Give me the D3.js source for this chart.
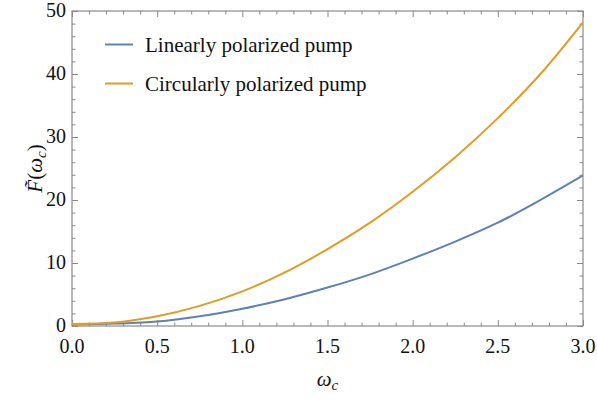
<!DOCTYPE html>
<html>
<head>
<meta charset="utf-8">
<script src="https://cdn.jsdelivr.net/npm/d3@7"></script>
</head>
<body style="margin:0">
<svg id="chart" width="597" height="399" font-family="serif"></svg>
<script>
// Sampled values of F̃(ω_c) for the two pump polarizations
const omega = [0, 0.25, 0.5, 0.75, 1.0, 1.25, 1.5, 1.75, 2.0, 2.25, 2.5, 2.75, 3.0];
const linearPump = [0.25, 0.38, 0.7, 1.55, 2.75, 4.25, 6.1, 8.2, 10.7, 13.4, 16.4, 20.0, 23.9];
const circularPump = [0.3, 0.55, 1.55, 3.2, 5.5, 8.5, 12.2, 16.4, 21.3, 26.8, 33.0, 40.0, 48.2];

const seriesNames = ["Linearly polarized pump", "Circularly polarized pump"];
const seriesColors = ["#5E81B5", "#E19C24"];

const xMajor = [0, 0.5, 1.0, 1.5, 2.0, 2.5, 3.0];
const yMajor = [0, 10, 20, 30, 40, 50];

const svg = d3.select("#chart");
const plotL = 72, plotR = 583, plotT = 11, plotB = 326;

const x = d3.scaleLinear().domain([0, 3]).range([plotL, plotR]);
const y = d3.scaleLinear().domain([0, 50]).range([plotB, plotT]);

const frameColor = "#8a8a8a";
const majorLen = 6, minorLen = 3.5;

const xMinor = d3.range(0, 3.0001, 0.1).filter(v => Math.abs(v * 2 - Math.round(v * 2)) > 1e-6);
const yMinor = d3.range(0, 50.0001, 2).filter(v => v % 10 !== 0);

// Serif text helper: every label goes through it
function serifText(sel, size) {
  return sel.attr("font-family", "serif")
    .attr("font-size", size)
    .attr("fill", "#111");
}

// Frame ticks on all four sides, pointing inward
const gx = svg.append("g").attr("transform", `translate(0,${plotB})`);
gx.call(d3.axisBottom(x).tickValues(xMajor).tickSize(-majorLen).tickFormat(""));
gx.append("g").call(d3.axisBottom(x).tickValues(xMinor).tickSize(-minorLen).tickFormat(""));

const gt = svg.append("g").attr("transform", `translate(0,${plotT})`);
gt.call(d3.axisTop(x).tickValues(xMajor).tickSize(-majorLen).tickFormat(""));
gt.append("g").call(d3.axisTop(x).tickValues(xMinor).tickSize(-minorLen).tickFormat(""));

const gy = svg.append("g").attr("transform", `translate(${plotL},0)`);
gy.call(d3.axisLeft(y).tickValues(yMajor).tickSize(-majorLen).tickFormat(""));
gy.append("g").call(d3.axisLeft(y).tickValues(yMinor).tickSize(-minorLen).tickFormat(""));

const gr = svg.append("g").attr("transform", `translate(${plotR},0)`);
gr.call(d3.axisRight(y).tickValues(yMajor).tickSize(-majorLen).tickFormat(""));
gr.append("g").call(d3.axisRight(y).tickValues(yMinor).tickSize(-minorLen).tickFormat(""));

svg.selectAll(".domain").remove();
svg.selectAll(".tick text").remove();
svg.selectAll("g").attr("font-family", "serif");
svg.selectAll(".tick line").attr("stroke", frameColor).attr("stroke-width", 1);

// Tick labels
const fmtX = d3.format(".1f");
serifText(svg.append("g").selectAll("text").data(xMajor).join("text"), 20)
  .attr("x", d => x(d)).attr("y", plotB + 27)
  .attr("text-anchor", "middle")
  .text(d => fmtX(d));

serifText(svg.append("g").selectAll("text").data(yMajor).join("text"), 20)
  .attr("x", plotL - 6).attr("y", d => y(d) + 6)
  .attr("text-anchor", "end")
  .text(d => d);

// Frame
svg.append("rect")
  .attr("x", plotL).attr("y", plotT)
  .attr("width", plotR - plotL).attr("height", plotB - plotT)
  .attr("fill", "none").attr("stroke", frameColor).attr("stroke-width", 1.2);

// Curves
const line = d3.line()
  .x(d => x(d[0]))
  .y(d => y(d[1]))
  .curve(d3.curveCatmullRom.alpha(0.5));

svg.append("clipPath").attr("id", "plotClip")
  .append("rect").attr("x", plotL).attr("y", plotT - 2)
  .attr("width", plotR - plotL).attr("height", plotB - plotT + 2);

[linearPump, circularPump].forEach((vals, i) => {
  svg.append("path")
    .datum(omega.map((w, k) => [w, vals[k]]))
    .attr("d", line)
    .attr("fill", "none")
    .attr("stroke", seriesColors[i])
    .attr("stroke-width", 2)
    .attr("clip-path", "url(#plotClip)");
});

// Legend
const legend = svg.append("g");
seriesNames.forEach((name, i) => {
  const cy = 44.5 + i * 39;
  legend.append("line")
    .attr("x1", 105).attr("x2", 133).attr("y1", cy).attr("y2", cy)
    .attr("stroke", seriesColors[i]).attr("stroke-width", 2);
  serifText(legend.append("text"), 21)
    .attr("x", 145).attr("y", cy + 7)
    .text(name);
});

// Axis titles
const xt = serifText(svg.append("text"), 21)
  .attr("x", (plotL + plotR) / 2).attr("y", 386)
  .attr("text-anchor", "middle");
xt.append("tspan").attr("font-style", "italic").text("ω");
xt.append("tspan").attr("font-style", "italic").attr("font-size", 15)
  .attr("dy", 4).text("c");

const yt = serifText(svg.append("text"), 21)
  .attr("transform", `translate(42,${(plotT + plotB) / 2}) rotate(-90)`)
  .attr("text-anchor", "middle");
yt.append("tspan").attr("font-style", "italic").text("F\u0303");
yt.append("tspan").text("(");
yt.append("tspan").attr("font-style", "italic").text("ω");
yt.append("tspan").attr("font-style", "italic").attr("font-size", 15)
  .attr("dy", 4).text("c");
yt.append("tspan").attr("dy", -4).text(")");
</script>
</body>
</html>
